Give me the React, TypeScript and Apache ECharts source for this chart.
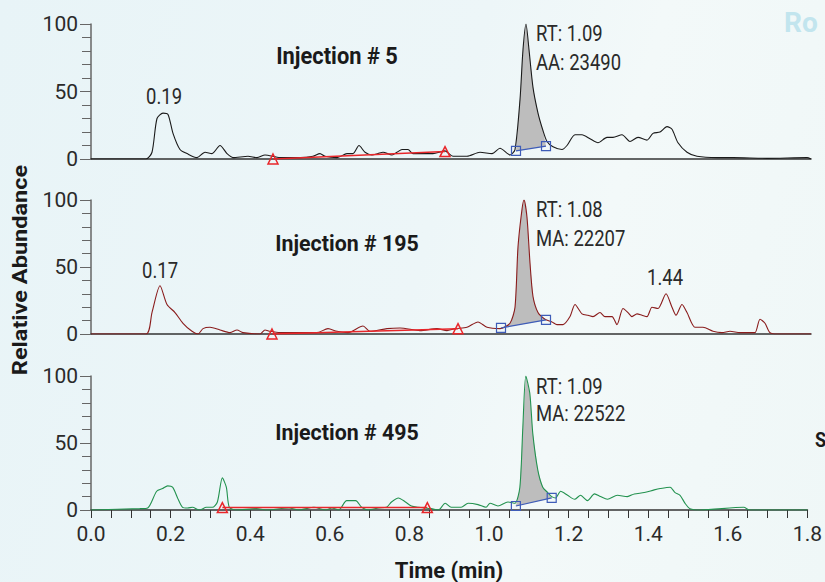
import React, { useEffect, useRef } from "react";
import * as echarts from "echarts";

// ---- Data (time in min, relative abundance in %) ----
const t1 = [0, 0.1375, 0.1525, 0.165, 0.18, 0.1925, 0.205, 0.2225, 0.24, 0.265, 0.285, 0.3025, 0.3225, 0.34, 0.355, 0.3925, 0.415, 0.435, 0.4725, 0.5225, 0.555, 0.5725, 0.585, 0.615, 0.64, 0.655, 0.67, 0.685, 0.7025, 0.7175, 0.73, 0.7525, 0.765, 0.7775, 0.7925, 0.805, 0.8225, 0.855, 0.885, 0.905, 0.94, 0.9725, 1.0025, 1.0225, 1.0475, 1.06, 1.0725, 1.08, 1.0875, 1.095, 1.105, 1.1175, 1.13, 1.14, 1.155, 1.1775, 1.19, 1.21, 1.2275, 1.2475, 1.2675, 1.29, 1.305, 1.3275, 1.3475, 1.3675, 1.39, 1.405, 1.4225, 1.44, 1.4525, 1.4675, 1.49, 1.515, 1.565, 1.605, 1.69, 1.79, 1.8];
const v1 = [0, 0, 5, 30, 34, 33, 19, 7, 4, 1, 5, 4, 10, 4, 1, 2, 1, 3, 1, 1, 2, 4, 2, 1, 4, 4, 10, 5, 3, 4, 5, 3, 5, 7, 7, 4, 4, 4, 6, 2, 2, 5, 4, 8, 3, 7, 44, 81, 100, 81, 53, 34, 21, 13, 9, 7, 10, 18, 18, 15, 12, 16, 16, 18, 13, 16, 14, 19, 20, 24, 22, 12, 5, 2, 1, 1, 0.5, 1, 0];

const t2 = [0, 0.1375, 0.1525, 0.1725, 0.19, 0.21, 0.23, 0.2525, 0.2675, 0.28, 0.2975, 0.3225, 0.3475, 0.365, 0.38, 0.4225, 0.435, 0.4475, 0.4725, 0.5225, 0.565, 0.5925, 0.615, 0.6425, 0.68, 0.6975, 0.74, 0.7725, 0.8225, 0.865, 0.89, 0.91, 0.94, 0.9675, 0.99, 1.0225, 1.0475, 1.06, 1.0675, 1.0775, 1.0825, 1.09, 1.0975, 1.105, 1.1175, 1.135, 1.1525, 1.165, 1.18, 1.1975, 1.21, 1.2275, 1.2425, 1.255, 1.2725, 1.285, 1.3025, 1.315, 1.33, 1.3425, 1.3525, 1.365, 1.3775, 1.39, 1.4025, 1.4175, 1.4375, 1.4525, 1.4625, 1.4775, 1.49, 1.51, 1.53, 1.555, 1.5775, 1.5975, 1.6225, 1.6475, 1.66, 1.6725, 1.685, 1.6975, 1.715, 1.8];
const v2 = [0, 0, 16, 36, 22, 16, 8, 2, 0, 4, 5, 3, 1, 3, 1, 0, 3, 2, 1, 1, 1, 4, 2, 1, 6, 2, 4, 4.5, 2.5, 4, 2.5, 4, 5, 9, 5, 4, 8, 20, 65, 93, 100, 87, 53, 28, 16, 11, 9, 7, 7, 13, 22, 15, 14, 13, 16, 13, 13, 7, 19, 16, 13, 15, 14, 13, 20, 19, 30, 20, 14, 22, 16, 5, 5, 2, 1, 2, 1, 1, 1, 11, 8, 1, 0, 0];

const t3 = [0, 0.1225, 0.1425, 0.165, 0.18, 0.1925, 0.205, 0.2175, 0.23, 0.2425, 0.255, 0.2725, 0.29, 0.305, 0.3175, 0.33, 0.34, 0.3475, 0.365, 0.415, 0.44, 0.4975, 0.5225, 0.56, 0.59, 0.605, 0.6225, 0.6425, 0.665, 0.68, 0.6975, 0.7225, 0.7425, 0.755, 0.7725, 0.79, 0.805, 0.8225, 0.855, 0.8725, 0.89, 0.905, 0.93, 0.9475, 0.9725, 0.9925, 1.0025, 1.0225, 1.0475, 1.065, 1.0775, 1.085, 1.0925, 1.1025, 1.11, 1.1225, 1.135, 1.1475, 1.1575, 1.1675, 1.18, 1.1975, 1.215, 1.23, 1.2475, 1.265, 1.28, 1.2975, 1.3225, 1.3475, 1.365, 1.39, 1.415, 1.43, 1.455, 1.4675, 1.48, 1.4925, 1.505, 1.53, 1.64, 1.655, 1.8];
const v3 = [0, 1, 1.5, 14, 16, 18, 17, 9, 2, 1.5, 2, 0, 2, 2, 6, 24, 17, 2, 0, 1, 0, 1.5, 0, 2, 0, 1.5, 0, 7, 7, 2, 0, 1.5, 2, 6, 9, 6, 3, 2, 1, 0, 5, 2, 2, 5, 4, 2, 5, 3, 6, 5, 17, 62, 100, 87, 57, 30, 17, 13, 10, 9, 14, 11, 8, 11, 7, 12, 10, 8, 11, 10, 12, 13, 15, 16, 17, 13, 11, 5, 1, 0, 2, 0, 0];

// integration baselines: [start time, start value, end time, end value]
const redBase1 = [0.455, 0, 0.885, 5.5];
const redBase2 = [0.4525, 0, 0.9175, 4];
const redBase3 = [0.33, 1.8, 0.845, 1.8];
const blueBase1 = [1.0625, 6, 1.1375, 9.6];
const blueBase2 = [1.025, 4.5, 1.1375, 10.5];
const blueBase3 = [1.0675, 3, 1.1575, 9];

const injections = ["Injection # 5", "Injection # 195", "Injection # 495"];
const rtLabels = ["RT: 1.09", "RT: 1.08", "RT: 1.09"];
const areaLabels = ["AA: 23490", "MA: 22207", "MA: 22522"];
const yTicks = [0, 50, 100];
const xTickLabels = ["0.0", "0.2", "0.4", "0.6", "0.8", "1.0", "1.2", "1.4", "1.6", "1.8"];

const FONT = 'Roboto, "Liberation Sans", sans-serif';
const TRACE_COLORS = ["#1a1a1a", "#8a1c1c", "#23924f"];
const RED = "#e8262a";
const BLUE = "#3e5cb8";

const zip = (a: number[], b: number[]) => a.map((x, i) => [x, b[i]]);

export default function App() {
  const ref = useRef<HTMLDivElement>(null);
  useEffect(() => {
    if (!ref.current) return;
    const chart = echarts.init(ref.current, undefined, { renderer: "svg" });
    const traces = [zip(t1, v1), zip(t2, v2), zip(t3, v3)];
    const reds = [redBase1, redBase2, redBase3];
    const blues = [blueBase1, blueBase2, blueBase3];
    const tops = [24, 200, 376];
    const heights = [135, 134, 134];

    const grids = tops.map((top, i) => ({ left: 91, width: 720, top, height: heights[i] }));
    const xAxes = tops.map((_, i) => ({
      type: "value",
      gridIndex: i,
      min: 0,
      max: 1.8,
      interval: 0.2,
      axisLine: { show: true, onZero: false, lineStyle: { color: "#333", width: 1.5 } },
      axisTick: { show: i === 2, length: 8, lineStyle: { color: "#333" } },
      minorTick: { show: i === 2, splitNumber: 4, length: 8, lineStyle: { color: "#333" } },
      axisLabel: {
        show: i === 2,
        fontFamily: FONT,
        fontSize: 21,
        color: "#2a2a2a",
        margin: 13,
        formatter: (v: number) => xTickLabels[Math.round(v / 0.2)] ?? "",
      },
      splitLine: { show: false },
    }));
    const yAxes = tops.map((_, i) => ({
      type: "value",
      gridIndex: i,
      min: yTicks[0],
      max: yTicks[2],
      interval: yTicks[1],
      axisLine: { show: true, lineStyle: { color: "#666", width: 1.5 } },
      axisTick: { show: true, length: 11, lineStyle: { color: "#666" } },
      minorTick: { show: true, splitNumber: 5, length: 9, lineStyle: { color: "#666" } },
      axisLabel: { fontFamily: FONT, fontSize: 21, color: "#2a2a2a", margin: 13 },
      splitLine: { show: false },
    }));

    const series: any[] = [];
    traces.forEach((tr, i) => {
      const b = blues[i];
      series.push({
        type: "custom",
        xAxisIndex: i,
        yAxisIndex: i,
        silent: true,
        z: 1,
        data: [[b[0], b[1]]],
        renderItem: (_p: any, api: any) => {
          const pts: number[][] = [api.coord([b[0], b[1]])];
          tr.forEach((p) => {
            if (p[0] > b[0] && p[0] < b[2]) pts.push(api.coord(p));
          });
          pts.push(api.coord([b[2], b[3]]));
          return {
            type: "polygon",
            shape: { points: pts },
            style: { fill: "#bdbdbd", stroke: "none" },
          };
        },
      });
      series.push({
        type: "line",
        xAxisIndex: i,
        yAxisIndex: i,
        data: tr,
        showSymbol: false,
        smooth: 0.25,
        z: 3,
        lineStyle: { color: TRACE_COLORS[i], width: 1.1 },
      });
      const r = reds[i];
      series.push({
        type: "line",
        xAxisIndex: i,
        yAxisIndex: i,
        data: [[r[0], r[1]], [r[2], r[3]]],
        symbol: "triangle",
        symbolSize: 10,
        z: 4,
        lineStyle: { color: RED, width: 1.5 },
        itemStyle: { color: "rgba(0,0,0,0)", borderColor: RED, borderWidth: 1.5 },
      });
      series.push({
        type: "line",
        xAxisIndex: i,
        yAxisIndex: i,
        data: [[b[0], b[1]], [b[2], b[3]]],
        symbol: "rect",
        symbolSize: 9,
        z: 4,
        lineStyle: { color: BLUE, width: 1.2 },
        itemStyle: { color: "rgba(0,0,0,0)", borderColor: BLUE, borderWidth: 1.2 },
      });
    });

    const txt = (x: number, y: number, text: string, extra: any = {}, sx = 0.84) => ({
      type: "text",
      x,
      y,
      scaleX: sx,
      style: {
        text,
        fontFamily: FONT,
        fontSize: 22,
        fill: "#2a2a2a",
        textAlign: "left",
        textVerticalAlign: "middle",
        ...extra,
      },
    });
    const bold = { fontWeight: "bold", fill: "#1a1a1a", textAlign: "center", fontSize: 23 };

    const graphic: any[] = [
      txt(784, 22, "Ro", { fill: "#c2e5ee", fontWeight: "bold", fontSize: 28 }, 1),
      txt(815, 440, "S", { fontWeight: "bold", fill: "#1a1a1a", fontSize: 20 }, 0.9),
      txt(337, 56, injections[0], bold, 0.95),
      txt(347, 243, injections[1], bold, 0.93),
      txt(347, 432, injections[2], bold, 0.93),
      txt(164, 96, "0.19", { textAlign: "center" }),
      txt(160, 270, "0.17", { textAlign: "center" }),
      txt(665, 277, "1.44", { textAlign: "center" }),
      txt(536, 33, rtLabels[0]),
      txt(536, 62, areaLabels[0]),
      txt(536, 209, rtLabels[1]),
      txt(536, 238, areaLabels[1]),
      txt(536, 386, rtLabels[2]),
      txt(536, 413, areaLabels[2]),
      txt(449, 570, "Time (min)", { ...bold, fontSize: 22 }, 1),
      {
        type: "text",
        x: 19,
        y: 270,
        rotation: Math.PI / 2,
        scaleX: 1.12,
        style: {
          text: "Relative Abundance",
          fontFamily: FONT,
          fontSize: 21,
          fontWeight: "bold",
          fill: "#1a1a1a",
          textAlign: "center",
          textVerticalAlign: "middle",
        },
      },
    ];

    chart.setOption({
      animation: false,
      backgroundColor: "transparent",
      grid: grids,
      xAxis: xAxes,
      yAxis: yAxes,
      series,
      graphic,
    });
    return () => chart.dispose();
  }, []);

  return (
    <div
      style={{
        position: "absolute",
        left: 0,
        top: 0,
        width: 825,
        height: 582,
        background: "linear-gradient(105deg, #e8f4f7 0%, #edf6f8 50%, #f3f9f9 68%, #eff7f7 100%)",
      }}
    >
      <div ref={ref} style={{ width: 825, height: 582 }} />
    </div>
  );
}
